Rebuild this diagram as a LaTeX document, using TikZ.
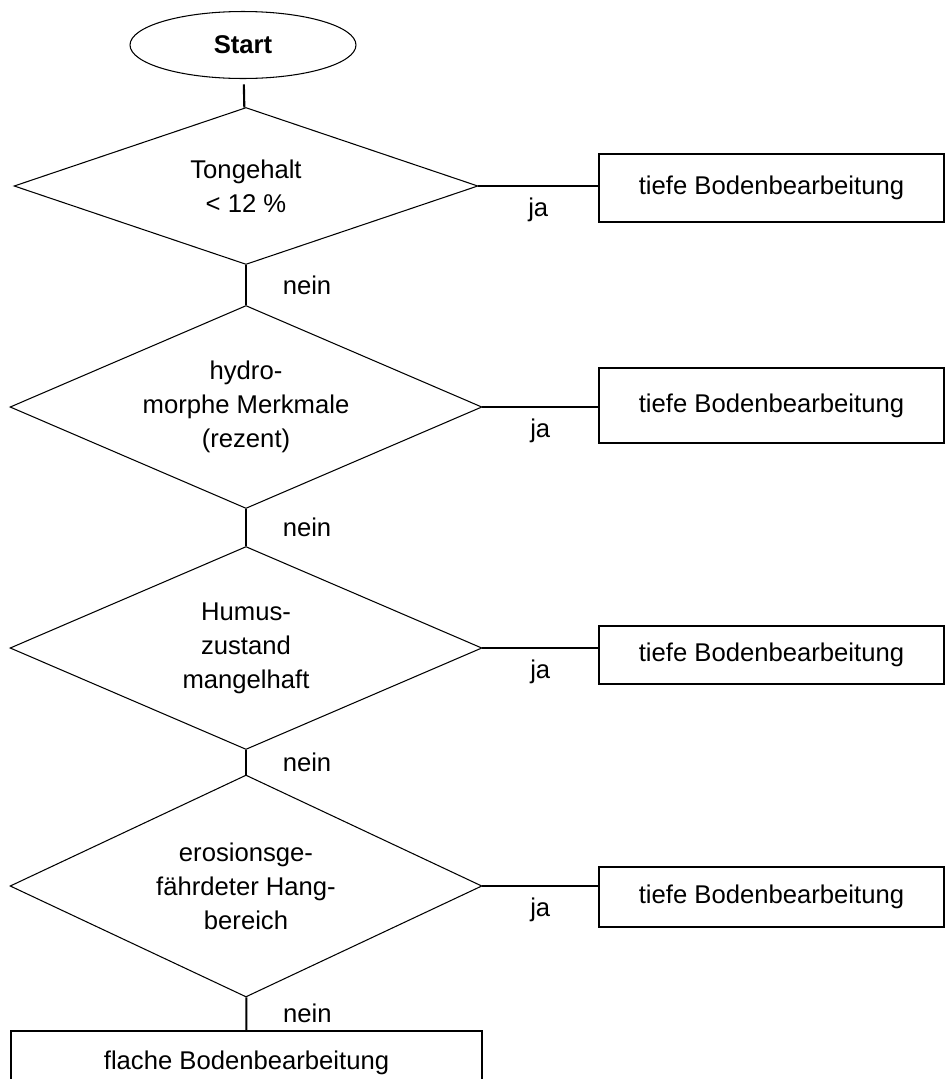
\documentclass[tikz,border=0pt]{standalone}
\usepackage{fontspec}
\setmainfont{Liberation Sans}
\usetikzlibrary{shapes.geometric}

\tikzset{
    start/.style={draw, ellipse, line width=0.6pt, minimum width=4.52cm, minimum height=1.34cm},
    frage/.style={draw, diamond, aspect=2.3, line width=0.6pt, inner sep=0pt, align=center},
    tief/.style={draw, line width=1.2pt, minimum width=6.9cm},
    verb/.style={line width=1.2pt}
}

\begin{document}
\begin{tikzpicture}[x=0.02cm, y=-0.02cm, font=\fontsize{14.6}{19.4}\selectfont]
        \useasboundingbox (0,0) rectangle (945,1079);

        \node[start] (start) at (243,45) {\textbf{Start}};

        % Fragen
        \node[frage, minimum width=9.28cm, minimum height=3.14cm] (f1) at (246,186) {Tongehalt\\< 12 \%};
        \node[frage, minimum width=9.44cm, minimum height=4.06cm] (f2) at (246,407) {hydro-\\morphe Merkmale\\(rezent)};
        \node[frage, minimum width=9.44cm, minimum height=4.06cm] (f3) at (246,648) {Humus-\\zustand\\mangelhaft};
        \node[frage, minimum width=9.44cm, minimum height=4.44cm] (f4) at (246,886) {erosionsge-\\fährdeter Hang-\\bereich};

        % ja-Zweige
        \node[tief, minimum height=1.36cm] (t1) at (771.5,188) {tiefe Bodenbearbeitung};
        \node[tief, minimum height=1.5cm] (t2) at (771.5,405.5) {tiefe Bodenbearbeitung};
        \node[tief, minimum height=1.16cm] (t3) at (771.5,655) {tiefe Bodenbearbeitung};
        \node[tief, minimum height=1.2cm] (t4) at (771.5,897) {tiefe Bodenbearbeitung};

        \node[tief, minimum width=9.42cm, minimum height=1.28cm] (flach) at (246.5,1063) {flache Bodenbearbeitung};

        \draw[verb, shorten <=3pt] (start) -- (f1);
        \draw[verb] (f1) -- (f2) node[midway, right=17pt] {nein};
        \draw[verb] (f2) -- (f3) node[midway, right=17pt] {nein};
        \draw[verb] (f3) -- (f4) node[midway, right=17pt] {nein};
        \draw[verb] (f4) -- (flach) node[midway, right=17pt] {nein};

        \foreach \i in {1,...,4} {
            \draw[verb] (f\i.east) -- (f\i.east -| t\i.west) node[midway, below=3pt] {ja};
        }
    \end{tikzpicture}
\end{document}
